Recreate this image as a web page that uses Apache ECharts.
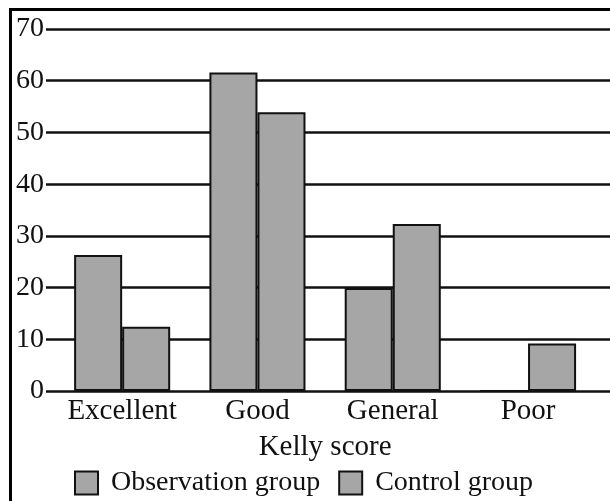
<!DOCTYPE html>
<html>
<head>
<meta charset="utf-8">
<script src="https://cdn.jsdelivr.net/npm/echarts@6/dist/echarts.min.js"></script>
<style>
  html, body { margin: 0; padding: 0; background: #fff; }
  #chart { width: 610px; height: 501px; }
</style>
</head>
<body>
<div id="chart"></div>
<script>
// Kelly score categories and group values
var categories = ['Excellent', 'Good', 'General', 'Poor'];
var observation = [26.3, 61.6, 19.9, 0];
var control = [12.4, 53.9, 32.3, 9.2];
var yTicks = [0, 10, 20, 30, 40, 50, 60, 70];

var font = 'Liberation Serif';
var chart = echarts.init(document.getElementById('chart'));

var barStyle = {
  color: '#a6a6a6',
  borderColor: '#111',
  borderWidth: 2
};

var option = {
  animation: false,
  textStyle: { fontFamily: font },
  // frame around the figure (top and left edges visible)
  graphic: [{
    type: 'rect',
    shape: { x: 10.5, y: 9.5, width: 700, height: 600 },
    style: { fill: 'none', stroke: '#000', lineWidth: 3 },
    silent: true
  }],
  legend: {
    left: 74,
    top: 469,
    padding: 0,
    itemWidth: 23,
    itemHeight: 23,
    itemGap: 18,
    icon: 'rect',
    textStyle: { fontFamily: font, fontSize: 28, color: '#111', padding: [0, 0, 0, 8] },
    data: ['Observation group', 'Control group']
  },
  grid: [
    // grid for the horizontal gridlines and value labels
    { left: 46, right: 0, top: 29, bottom: 110 },
    // grid for the bars
    { left: 54.5, right: 14.3, top: 29, bottom: 110 }
  ],
  xAxis: [
    { gridIndex: 0, type: 'category', data: categories, show: false },
    {
      gridIndex: 1,
      type: 'category',
      data: categories,
      axisLine: { show: false },
      axisTick: { show: false },
      axisLabel: {
        interval: 0,
        hideOverlap: false,
        margin: 6,
        fontFamily: font,
        fontSize: 29,
        color: '#111'
      },
      name: 'Kelly score',
      nameLocation: 'middle',
      nameGap: 42,
      nameTextStyle: { fontFamily: font, fontSize: 29, color: '#111' }
    }
  ],
  yAxis: [
    {
      gridIndex: 0,
      type: 'value',
      min: yTicks[0],
      max: yTicks[yTicks.length - 1],
      interval: 10,
      axisLine: { show: false },
      axisTick: { show: false },
      axisLabel: {
        margin: 2,
        fontFamily: font,
        fontSize: 28,
        color: '#111'
      },
      splitLine: { show: true, lineStyle: { color: '#111', width: 2.5 } }
    },
    {
      gridIndex: 1,
      type: 'value',
      min: yTicks[0],
      max: yTicks[yTicks.length - 1],
      interval: 10,
      show: false,
      splitLine: { show: false }
    }
  ],
  series: [
    {
      name: 'Observation group',
      type: 'bar',
      xAxisIndex: 1,
      yAxisIndex: 1,
      data: observation,
      barGap: '0%',
      barCategoryGap: '29%',
      itemStyle: barStyle
    },
    {
      name: 'Control group',
      type: 'bar',
      xAxisIndex: 1,
      yAxisIndex: 1,
      data: control,
      barGap: '0%',
      barCategoryGap: '29%',
      itemStyle: barStyle
    }
  ]
};

chart.setOption(option);
</script>
</body>
</html>
